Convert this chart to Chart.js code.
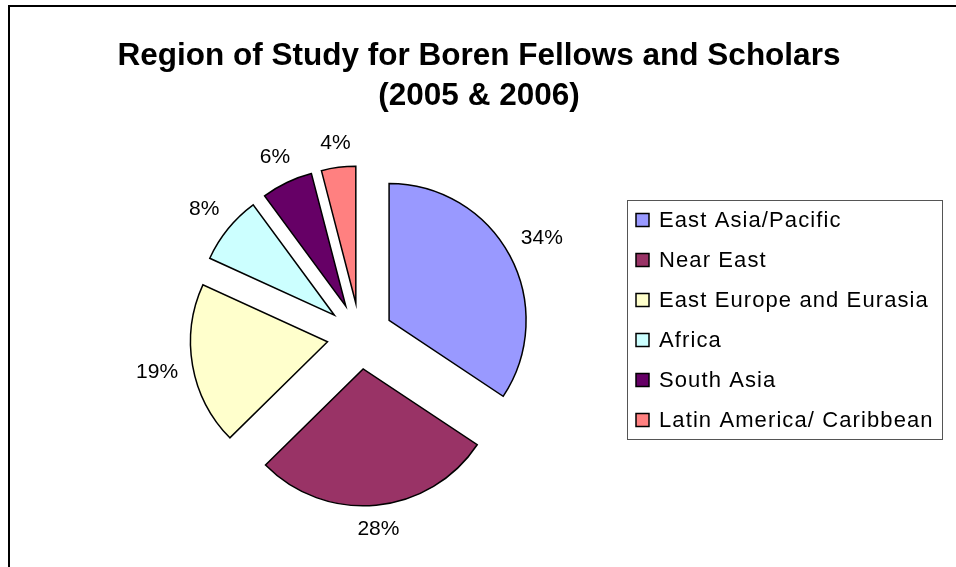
<!DOCTYPE html>
<html>
<head>
<meta charset="utf-8">
<script src="https://cdn.jsdelivr.net/npm/chart.js@4/dist/chart.umd.min.js"></script>
<style>
  html, body { margin: 0; padding: 0; background: #fff; }
  #wrap { width: 956px; height: 567px; position: relative; }
</style>
</head>
<body>
<div id="wrap"><canvas id="pie"></canvas></div>
<script>
// chart data
const titleLines = ['Region of Study for Boren Fellows and Scholars', '(2005 & 2006)'];
const regions = ['East Asia/Pacific', 'Near East', 'East Europe and Eurasia', 'Africa', 'South Asia', 'Latin America/ Caribbean'];
const shares = [34, 28, 19, 8, 6, 4];
const sliceColors = ['#9999FF', '#993366', '#FFFFCC', '#CCFFFF', '#660066', '#FF8080'];

const EXPLODE = 33;   // how far each slice is pulled out
const LABEL_GAP = 14; // space between arc and the label box
const FONT = '"Liberation Sans", Arial, sans-serif';

// draw every slice pulled out along its middle angle
const explodePlugin = {
    id: 'explode',
    beforeDatasetDraw(chart, args) {
        const ctx = chart.ctx;
        args.meta.data.forEach(arc => {
            const mid = (arc.startAngle + arc.endAngle) / 2;
            ctx.save();
            ctx.translate(Math.cos(mid) * EXPLODE, Math.sin(mid) * EXPLODE);
            arc.draw(ctx, chart.chartArea);
            ctx.restore();
        });
        return false;
    }
};

// percent labels outside the slices
const percentPlugin = {
    id: 'percentLabels',
    afterDatasetsDraw(chart) {
        const ctx = chart.ctx;
        const meta = chart.getDatasetMeta(0);
        const values = chart.data.datasets[0].data;
        const total = values.reduce((a, b) => a + b, 0);
        ctx.save();
        ctx.font = '21px ' + FONT;
        ctx.fillStyle = '#000';
        ctx.textAlign = 'center';
        ctx.textBaseline = 'middle';
        meta.data.forEach((arc, i) => {
            const mid = (arc.startAngle + arc.endAngle) / 2;
            const pct = Math.round(values[i] / total * 100) + '%';
            const halfW = ctx.measureText(pct).width / 2;
            const cx = Math.cos(mid), cy = Math.sin(mid);
            // push the label box just clear of the arc
            const dist = EXPLODE + arc.outerRadius + LABEL_GAP + Math.abs(cx) * halfW + Math.abs(cy) * 8;
            ctx.fillText(pct, arc.x + cx * dist, arc.y + cy * dist);
        });
        ctx.restore();
    }
};

// outer frame, title and boxed legend like the spreadsheet chart
const framePlugin = {
    id: 'frame',
    afterDraw(chart) {
        const ctx = chart.ctx;
        ctx.save();
        ctx.strokeStyle = '#000';
        ctx.lineWidth = 2;
        ctx.strokeRect(9, 6, 1000, 1000);

        ctx.fillStyle = '#000';
        ctx.font = 'bold 31.5px ' + FONT;
        ctx.textAlign = 'center';
        ctx.textBaseline = 'middle';
        titleLines.forEach((t, i) => ctx.fillText(t, 479, 56 + i * 40));

        ctx.lineWidth = 1;
        ctx.strokeStyle = '#555';
        ctx.strokeRect(627.5, 200.5, 315, 239);

        ctx.font = '22px ' + FONT;
        ctx.textAlign = 'left';
        if ('letterSpacing' in ctx) ctx.letterSpacing = '1.1px';
        regions.forEach((name, i) => {
            const y = 220 + i * 40;
            ctx.fillStyle = sliceColors[i];
            ctx.fillRect(636, y - 6.5, 13, 13);
            ctx.strokeStyle = '#000';
            ctx.lineWidth = 1.5;
            ctx.strokeRect(636, y - 6.5, 13, 13);
            ctx.fillStyle = '#000';
            ctx.fillText(name, 659, y + 1);
        });
        ctx.restore();
    }
};

new Chart(document.getElementById('pie'), {
    type: 'pie',
    data: {
        labels: regions,
        datasets: [{
            data: shares,
            backgroundColor: sliceColors,
            borderColor: '#000',
            borderWidth: 1.5,
            borderJoinStyle: 'miter'
        }]
    },
    options: {
        responsive: true,
        maintainAspectRatio: false,
        animation: false,
        events: [],
        radius: 137,
        layout: { padding: { left: 10, right: 246, top: 140, bottom: 35 } },
        plugins: {
            legend: { display: false },
            title: { display: false },
            tooltip: { enabled: false }
        }
    },
    plugins: [explodePlugin, percentPlugin, framePlugin]
});
</script>
</body>
</html>
